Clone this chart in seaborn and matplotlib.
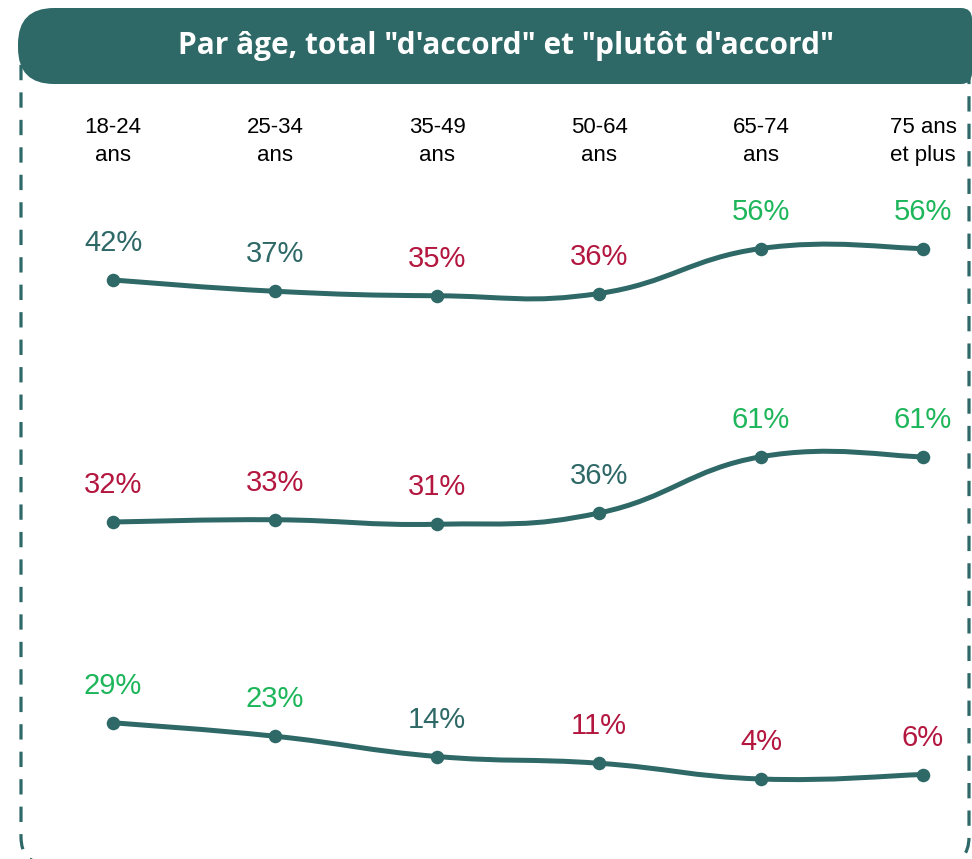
import numpy as np
import pandas as pd
import matplotlib.pyplot as plt
import seaborn as sns
from matplotlib.path import Path
from matplotlib.patches import PathPatch, FancyBboxPatch

# data
ages = ["18-24\nans", "25-34\nans", "35-49\nans", "50-64\nans", "65-74\nans", "75 ans\net plus"]
row1 = [42, 37, 35, 36, 56, 56]
row2 = [32, 33, 31, 36, 61, 61]
row3 = [29, 23, 14, 11, 4, 6]
# "+" above average, "-" below, "=" no difference
sig1 = ["=", "=", "-", "-", "+", "+"]
sig2 = ["-", "-", "-", "=", "+", "+"]
sig3 = ["+", "+", "=", "-", "-", "-"]
title = "Par âge, total \"d'accord\" et \"plutôt d'accord\""

teal = "#2e6867"
sig_colors = {"+": "#1db65a", "-": "#b3173f", "=": teal}

sns.set_style("white")
plt.rcParams["font.family"] = ["Liberation Sans", "DejaVu Sans"]

W, H = 972, 859
fig = plt.figure(figsize=(W / 100, H / 100), dpi=100)

# background: banner + dashed frame, in pixel units (y measured upward)
bg = fig.add_axes([0, 0, 1, 1], zorder=0)
bg.set_xlim(0, W)
bg.set_ylim(0, H)
bg.axis("off")


def box(x, top, w, h, rad, **kw):
    return FancyBboxPatch((x, H - top - h), w, h,
                          boxstyle=f"round,pad=0,rounding_size={rad}", **kw)


bg.add_patch(box(21, 30, 948, 834, 27, fill=False, edgecolor=teal, linewidth=2.3,
                 linestyle=(0, (4.8, 3.8))))
bg.add_patch(box(100, 8, 872, 76, 11, facecolor=teal, edgecolor="none"))
bg.add_patch(box(18, 8, 300, 76, 36, facecolor=teal, edgecolor="none"))
bg.text(506, H - 46, title, color="white", fontsize=21.5, fontweight="bold",
        family=["Open Sans", "DejaVu Sans"], ha="center", va="center")


def smooth_path(xs, ys, t=0.22):
    verts = [(xs[0], ys[0])]
    codes = [Path.MOVETO]
    n = len(xs)
    for i in range(n - 1):
        a = i - 1 if i > 0 else i
        b = i + 2 if i + 2 < n else i + 1
        c1 = (xs[i] + (xs[i + 1] - xs[a]) * t, ys[i] + (ys[i + 1] - ys[a]) * t)
        c2 = (xs[i + 1] - (xs[b] - xs[i]) * t, ys[i + 1] - (ys[b] - ys[i]) * t)
        verts += [c1, c2, (xs[i + 1], ys[i + 1])]
        codes += [Path.CURVE4] * 3
    return Path(verts, codes)


k = 2.25  # px per percentage point
x_first, x_step = 113, 162
rows = [
    (row1, sig1, 170, 340, 374.5),
    (row2, sig2, 380, 590, 594),
    (row3, sig3, 640, 840, 788),
]

for r, (vals, sig, top, bot, y0) in enumerate(rows):
    ax = fig.add_axes([0, 1 - bot / H, 1, (bot - top) / H], zorder=1)
    ax.set_facecolor("none")
    ax.set_xlim(-x_first / x_step, (W - x_first) / x_step)
    ax.set_ylim((y0 - bot) / k, (y0 - top) / k)
    df = pd.DataFrame({"age": range(len(vals)), "value": vals, "sig": sig})

    ax.add_patch(PathPatch(smooth_path(df["age"].to_numpy(float), df["value"].to_numpy(float)),
                           fill=False, edgecolor=teal, linewidth=3.6, capstyle="round", zorder=2))
    sns.scatterplot(data=df, x="age", y="value", color=teal, s=95, linewidth=0,
                    zorder=3, ax=ax, legend=False)
    for _, row in df.iterrows():
        ax.annotate(f"{row['value']}%", (row["age"], row["value"]), xytext=(0, 26.5),
                    textcoords="offset points", ha="center", va="center",
                    fontsize=21, color=sig_colors[row["sig"]])

    for s in ax.spines.values():
        s.set_visible(False)
    ax.set_yticks([])
    ax.set_xlabel("")
    ax.set_ylabel("")
    if r == 0:
        ax.xaxis.tick_top()
        ax.set_xticks(range(len(ages)))
        ax.set_xticklabels(ages, fontsize=16, linespacing=1.4, color="black")
        ax.tick_params(axis="x", length=0, pad=3)
    else:
        ax.set_xticks([])

fig.savefig("out.png", dpi=100)
